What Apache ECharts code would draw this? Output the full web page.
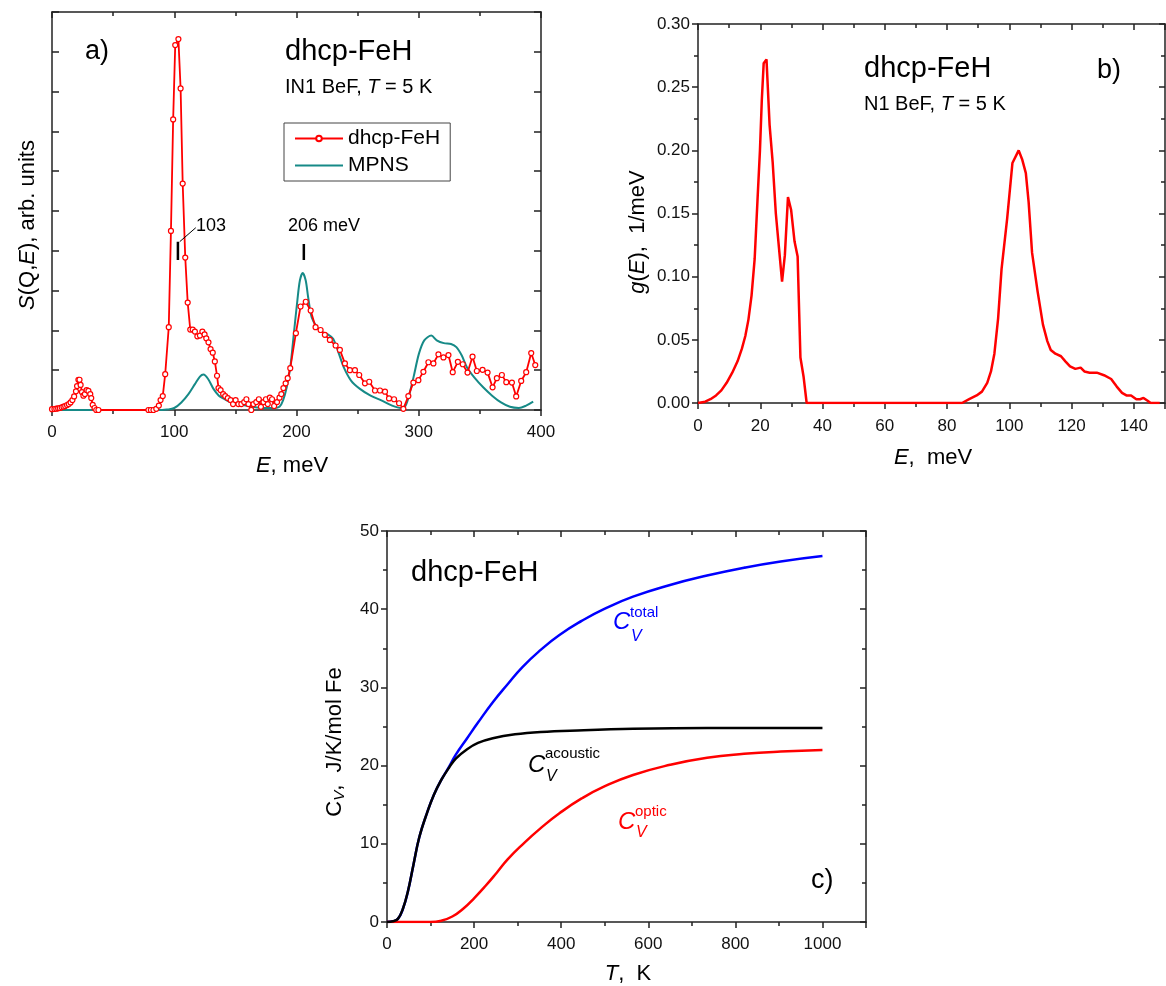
<!DOCTYPE html>
<html><head><meta charset="utf-8">
<script src="https://cdn.jsdelivr.net/npm/echarts@6/dist/echarts.min.js"></script>
<style>html,body{margin:0;padding:0;background:#fff}#c{width:1166px;height:986px}</style>
</head><body><div id="c"></div><script>
const FONT = '"Liberation Sans", Arial, sans-serif';

// ---------- Panel a: S(Q,E) ----------
const fehS = [
[0,0.02],[2,0.025],[3.5,0.034],[5,0.042],[6.4,0.05],[7.9,0.067],[9.4,0.084],[10.8,0.10],[12.3,0.126],[13.7,0.15],
[15.2,0.19],[16.7,0.25],[18.1,0.34],[19.6,0.47],[20.5,0.6],[21.6,0.76],[22.5,0.76],[23.4,0.63],[24.5,0.45],[25.7,0.36],
[26.9,0.40],[28.3,0.50],[29.8,0.48],[31.3,0.40],[32.1,0.30],[33.3,0.13],[34.8,0.05],[36.2,0.0],[38,0.0],
[78.9,0],[80.9,0],[83,0],[85.3,0.03],[87.4,0.11],[88.8,0.25],[90.6,0.35],[92.6,0.9],[95.5,2.08],[97.3,4.5],
[99.1,7.3],[100.8,9.17],[103.4,9.32],[105.2,8.08],[106.9,5.69],[109,3.83],[111,2.70],[113.1,2.02],[115.1,2.02],
[116.9,1.97],[118.9,1.85],[121,1.87],[123,1.97],[124.8,1.90],[126.2,1.80],[128,1.70],[129.7,1.53],[131.5,1.44],
[133.2,1.22],[135,0.86],[136.2,0.55],[137.9,0.50],[140,0.40],[141.7,0.35],[143.8,0.30],[146.1,0.25],[148.1,0.15],
[150.2,0.25],[152.5,0.15],[154.9,0.15],[157.2,0.2],[159,0.27],[160.7,0.15],[163,0.0],[164.8,0.15],[167.1,0.2],
[169.2,0.27],[170.9,0.08],[173,0.2],[175,0.27],[176.5,0.15],[178.2,0.31],[180,0.27],[181.7,0.10],[184.1,0.2],
[186.1,0.31],[187.6,0.40],[189.3,0.55],[191.1,0.67],[192.8,0.80],[194.9,1.05],[199.5,1.93],[203.3,2.60],
[207.6,2.72],[211.6,2.50],[215.6,2.08],[219.7,2.01],[223.2,1.89],[227.3,1.76],[232,1.62],[235.5,1.51],[239.6,1.17],
[243.7,1.0],[247.8,1.0],[251.3,0.88],[256,0.67],[259.5,0.71],[264.2,0.49],[268.3,0.49],[272.4,0.46],[275.7,0.29],
[279.8,0.27],[283.9,0.17],[287.4,0.03],[291.5,0.35],[295.6,0.69],[299.7,0.75],[303.8,0.96],[307.9,1.2],[312,1.17],
[316.1,1.40],[320.2,1.32],[324.3,1.38],[327.8,0.95],[332,1.21],[336,1.15],[339.9,0.94],[344,1.34],[347.5,0.98],
[352.2,1.01],[356.3,0.94],[360.4,0.57],[363.9,0.80],[368,0.88],[371.6,0.70],[376.2,0.69],[379.7,0.34],[383.8,0.73],
[387.9,0.95],[392,1.43],[395.3,1.13]
];
const mpns = [
[0,0],[20,0],[50,0],[80,0],[90,0],[94,0.01],[100,0.05],[105.8,0.19],[111.6,0.40],[116.9,0.65],[121,0.84],[123.9,0.89],
[127.7,0.78],[132.1,0.53],[136.5,0.36],[140.8,0.28],[146.7,0.19],[155.5,0.13],[164.2,0.08],[173,0.05],[181.7,0.05],
[186.1,0.08],[189,0.24],[192,0.57],[194.9,1.07],[197.8,1.91],[200.7,2.75],[202.8,3.26],[205.1,3.44],[207.5,3.26],
[209.5,2.84],[212.4,2.33],[216.8,2.08],[221.2,1.96],[225.6,1.90],[230,1.79],[234.3,1.45],[238.7,1.07],[244.6,0.74],
[251.9,0.53],[260.6,0.36],[269.4,0.24],[278.2,0.11],[285.5,0.05],[288.4,0.07],[291.3,0.28],[295.7,0.82],[300.1,1.41],
[304.5,1.75],[310.3,1.87],[314.7,1.75],[320.5,1.68],[326.4,1.66],[330.8,1.58],[335.2,1.37],[339.5,1.07],[345.4,0.82],
[352.7,0.57],[360,0.36],[367.3,0.19],[374.6,0.08],[381.9,0.05],[387.8,0.11],[393.6,0.21]
];
const mark103 = [[103,3.77],[103,4.23]];
const leader103 = [[104.5,4.23],[117.6,4.58]];
const mark206 = [[206,3.77],[206,4.17]];

// ---------- Panel b: g(E) ----------
const gE = [
[0,0],[2.3,0.001],[4.0,0.003],[5.8,0.006],[7.5,0.010],[9.2,0.016],[11.0,0.024],[12.7,0.033],[14.1,0.043],[15.2,0.053],
[16.2,0.066],[17.2,0.085],[18.2,0.114],[19.1,0.16],[19.9,0.2],[20.5,0.24],[21.1,0.269],[22.0,0.272],[23.0,0.22],
[24.0,0.19],[25.0,0.15],[26.0,0.123],[27.0,0.096],[27.9,0.117],[28.9,0.163],[29.9,0.153],[31.0,0.128],[32.0,0.116],
[32.9,0.036],[33.9,0.021],[34.9,0],[40,0],[60,0],[80,0],[84.8,0],[87.1,0.003],[89.5,0.006],[91.2,0.009],[92.9,0.016],
[94.1,0.025],[95.2,0.039],[96.4,0.067],[97.5,0.106],[99.3,0.146],[101,0.19],[103,0.2],[104.1,0.193],[105.3,0.182],
[106.2,0.159],[107.3,0.119],[109.1,0.088],[110.8,0.062],[112.2,0.049],[113.3,0.042],[114.8,0.039],[116.6,0.037],
[118,0.033],[119.5,0.029],[121.2,0.027],[122.9,0.028],[124.1,0.025],[125.8,0.024],[128.1,0.024],[130.4,0.022],
[132.7,0.019],[134.5,0.013],[136.2,0.008],[137.6,0.006],[139.1,0.006],[140.8,0.003],[142,0.003],[143.1,0.004],
[144.3,0.002],[145.4,0],[148.3,0]
];

// ---------- Panel c: Cv(T) ----------
const cvAcoustic = [[0,0],[14,0.1],[25,0.4],[36,1.6],[48,3.9],[61,7.4],[74,10.8],[91,13.8],[108,16.3],[125,18.2],[142,19.7],
[158,20.9],[184,22.1],[209,22.9],[243,23.5],[294,24.0],[353,24.3],[438,24.5],[565,24.7],[735,24.8],[1000,24.8]];
const cvTotal = [[0,0],[14,0.1],[25,0.4],[36,1.6],[48,3.9],[61,7.4],[74,10.8],[91,13.8],[108,16.3],[125,18.2],[142,19.8],
[158,21.4],[184,23.5],[209,25.5],[243,28.1],[277,30.4],[311,32.6],[353,34.8],[396,36.7],[447,38.5],[498,40.0],[565,41.6],
[650,43.1],[735,44.3],[820,45.3],[904,46.1],[1000,46.8]];
const cvOptic = [[0,0],[99,0],[125,0.17],[150,0.7],[175,1.7],[201,3.1],[226,4.6],[252,6.3],[277,8.0],[311,9.9],[353,12.0],
[396,13.9],[447,15.8],[498,17.3],[565,18.8],[650,20.1],[735,21.0],[820,21.5],[904,21.8],[1000,22.0]];

const AX = '#222';
function axis(gridIndex, position, min, max, interval, o) {
  return {
    type: 'value', gridIndex, position, min, max, interval,
    axisLine: {show: true, onZero: false, lineStyle: {color: AX, width: 1.5}},
    axisTick: {show: true, inside: !!o.inside, length: o.tick, lineStyle: {color: AX, width: 1.5}},
    minorTick: {show: !!o.minor, splitNumber: o.minor || 5, length: o.minorLen || 4, lineStyle: {color: AX, width: 1.5}},
    axisLabel: {show: !!o.labels, margin: o.margin || 8, fontSize: 17, fontFamily: FONT, color: '#111', formatter: o.fmt},
    splitLine: {show: false}, minorSplitLine: {show: false}
  };
}
function txt(x, y, text, size, o) {
  o = o || {};
  return {type: 'text', x, y, silent: true, rotation: o.rot || 0,
    style: {text, fontSize: size, fontFamily: FONT, fontStyle: o.italic ? 'italic' : 'normal',
      fill: o.color || '#000', textAlign: o.align || 'left', textVerticalAlign: 'middle', rich: o.rich}};
}
function rich(size, color) {
  return {
    n: {fontSize: size, fontFamily: FONT, color: color || '#000'},
    i: {fontSize: size, fontFamily: FONT, fontStyle: 'italic', color: color || '#000'},
    s: {fontSize: Math.round(size * 0.7), fontFamily: FONT, fontStyle: 'italic', color: color || '#000', padding: [Math.round(size*0.45),0,0,0]}
  };
}

const chart = echarts.init(document.getElementById('c'), null, {renderer: 'canvas'});
const lineMark = (data, w) => ({type: 'line', xAxisIndex: 0, yAxisIndex: 0, data, symbol: 'none', silent: true,
  lineStyle: {color: '#000', width: w}, z: 5});

chart.setOption({
  animation: false,
  backgroundColor: '#fff',
  grid: [
    {left: 52, top: 12, width: 489, height: 398, containLabel: false, outerBoundsMode: 'none'},
    {left: 698, top: 24, width: 467, height: 379, containLabel: false, outerBoundsMode: 'none'},
    {left: 387, top: 531, width: 479, height: 391, containLabel: false, outerBoundsMode: 'none'}
  ],
  xAxis: [
    axis(0, 'bottom', 0, 400, 100, {tick: 6, minor: 2, minorLen: 4, labels: true, margin: 14}),
    axis(0, 'top', 0, 400, 100, {inside: true, tick: 6, minor: 2, minorLen: 4}),
    axis(1, 'bottom', 0, 150, 20, {tick: 6, minor: 2, minorLen: 4, labels: true, margin: 15, fmt: v => v > 140 ? '' : String(v)}),
    axis(1, 'top', 0, 150, 20, {inside: true, tick: 6, minor: 2, minorLen: 4}),
    axis(2, 'bottom', 0, 1100, 200, {tick: 6, minor: 2, minorLen: 4, labels: true, margin: 14, fmt: v => v > 1000 ? '' : String(v)}),
    axis(2, 'top', 0, 1100, 200, {inside: true, tick: 6, minor: 2, minorLen: 4})
  ],
  yAxis: [
    axis(0, 'left', 0, 10, 1, {inside: true, tick: 7}),
    axis(0, 'right', 0, 10, 1, {inside: true, tick: 7}),
    axis(1, 'left', 0, 0.3, 0.05, {tick: 6, minor: 2, minorLen: 4, labels: true, margin: 8, fmt: v => v.toFixed(2)}),
    axis(1, 'right', 0, 0.3, 0.05, {inside: true, tick: 6, minor: 2, minorLen: 4}),
    axis(2, 'left', 0, 50, 10, {tick: 6, minor: 2, minorLen: 4, labels: true, margin: 8}),
    axis(2, 'right', 0, 50, 10, {inside: true, tick: 6, minor: 2, minorLen: 4})
  ],
  legend: {
    data: [{name: 'dhcp-FeH'}, {name: 'MPNS', itemStyle: {opacity: 0}}],
    left: 284, top: 123, orient: 'vertical', padding: [5, 10, 5, 10], itemGap: 6,
    itemWidth: 48, itemHeight: 7, borderColor: '#444', borderWidth: 1, selectedMode: false,
    textStyle: {fontSize: 21, fontFamily: FONT, color: '#000'}
  },
  series: [
    {name: 'MPNS', type: 'line', xAxisIndex: 0, yAxisIndex: 0, data: mpns, symbol: 'none', smooth: 0.3,
      lineStyle: {color: '#168a87', width: 2}, itemStyle: {color: '#168a87'}, z: 2},
    {name: 'dhcp-FeH', type: 'line', xAxisIndex: 0, yAxisIndex: 0, data: fehS, symbol: 'circle', symbolSize: 5,
      showAllSymbol: true, lineStyle: {color: '#ff0000', width: 1.8},
      itemStyle: {color: '#fff', borderColor: '#ff0000', borderWidth: 1.2}, z: 3},
    lineMark(mark103, 2.5), lineMark(leader103, 1), lineMark(mark206, 2.5),
    {type: 'line', xAxisIndex: 2, yAxisIndex: 2, data: gE, symbol: 'none', lineStyle: {color: '#ff0000', width: 2.5}},
    {type: 'line', xAxisIndex: 4, yAxisIndex: 4, data: cvTotal, symbol: 'none', smooth: 0.5, lineStyle: {color: '#0000ff', width: 2.5}},
    {type: 'line', xAxisIndex: 4, yAxisIndex: 4, data: cvOptic, symbol: 'none', smooth: 0.5, lineStyle: {color: '#ff0000', width: 2.5}},
    {type: 'line', xAxisIndex: 4, yAxisIndex: 4, data: cvAcoustic, symbol: 'none', smooth: 0.4, lineStyle: {color: '#000', width: 2.5}}
  ],
  graphic: [
    // panel a
    txt(85, 52, 'a)', 27),
    txt(285, 52, 'dhcp-FeH', 29),
    txt(285, 87, '{n|IN1 BeF, }{i|T}{n| = 5 K}', 20, {rich: rich(20)}),
    txt(196, 226, '103', 18),
    txt(288, 226, '206 meV', 18),
    txt(28, 225, '{i|S}{n|(Q,}{i|E}{n|), arb. units}', 22, {rot: Math.PI / 2, align: 'center', rich: rich(22)}),
    txt(292, 466, '{i|E}{n|, meV}', 22, {align: 'center', rich: rich(22)}),
    // panel b
    txt(864, 69, 'dhcp-FeH', 29),
    txt(864, 104, '{n|N1 BeF, }{i|T}{n| = 5 K}', 20, {rich: rich(20)}),
    txt(1097, 71, 'b)', 27),
    txt(638, 232, '{i|g}{n|(}{i|E}{n|),  1/meV}', 22, {rot: Math.PI / 2, align: 'center', rich: rich(22)}),
    txt(933, 458, '{i|E}{n|,  meV}', 22, {align: 'center', rich: rich(22)}),
    // panel c
    txt(411, 573, 'dhcp-FeH', 29),
    txt(811, 881, 'c)', 27),
    txt(628, 974, '{i|T}{n|,  K}', 22, {align: 'center', rich: rich(22)}),
    txt(335, 742, '{n|C}{s|V}{n|,  J/K/mol Fe}', 22, {rot: Math.PI / 2, align: 'center', rich: rich(22)}),
    txt(613, 622, 'C', 24, {italic: true, color: '#0000ff'}),
    txt(630, 613, 'total', 15, {color: '#0000ff'}),
    txt(631, 637, 'V', 16, {italic: true, color: '#0000ff'}),
    txt(528, 765, 'C', 24, {italic: true}),
    txt(545, 754, 'acoustic', 15),
    txt(546, 777, 'V', 16, {italic: true}),
    txt(618, 822, 'C', 24, {italic: true, color: '#ff0000'}),
    txt(635, 812, 'optic', 15, {color: '#ff0000'}),
    txt(636, 833, 'V', 16, {italic: true, color: '#ff0000'})
  ]
});
</script></body></html>
